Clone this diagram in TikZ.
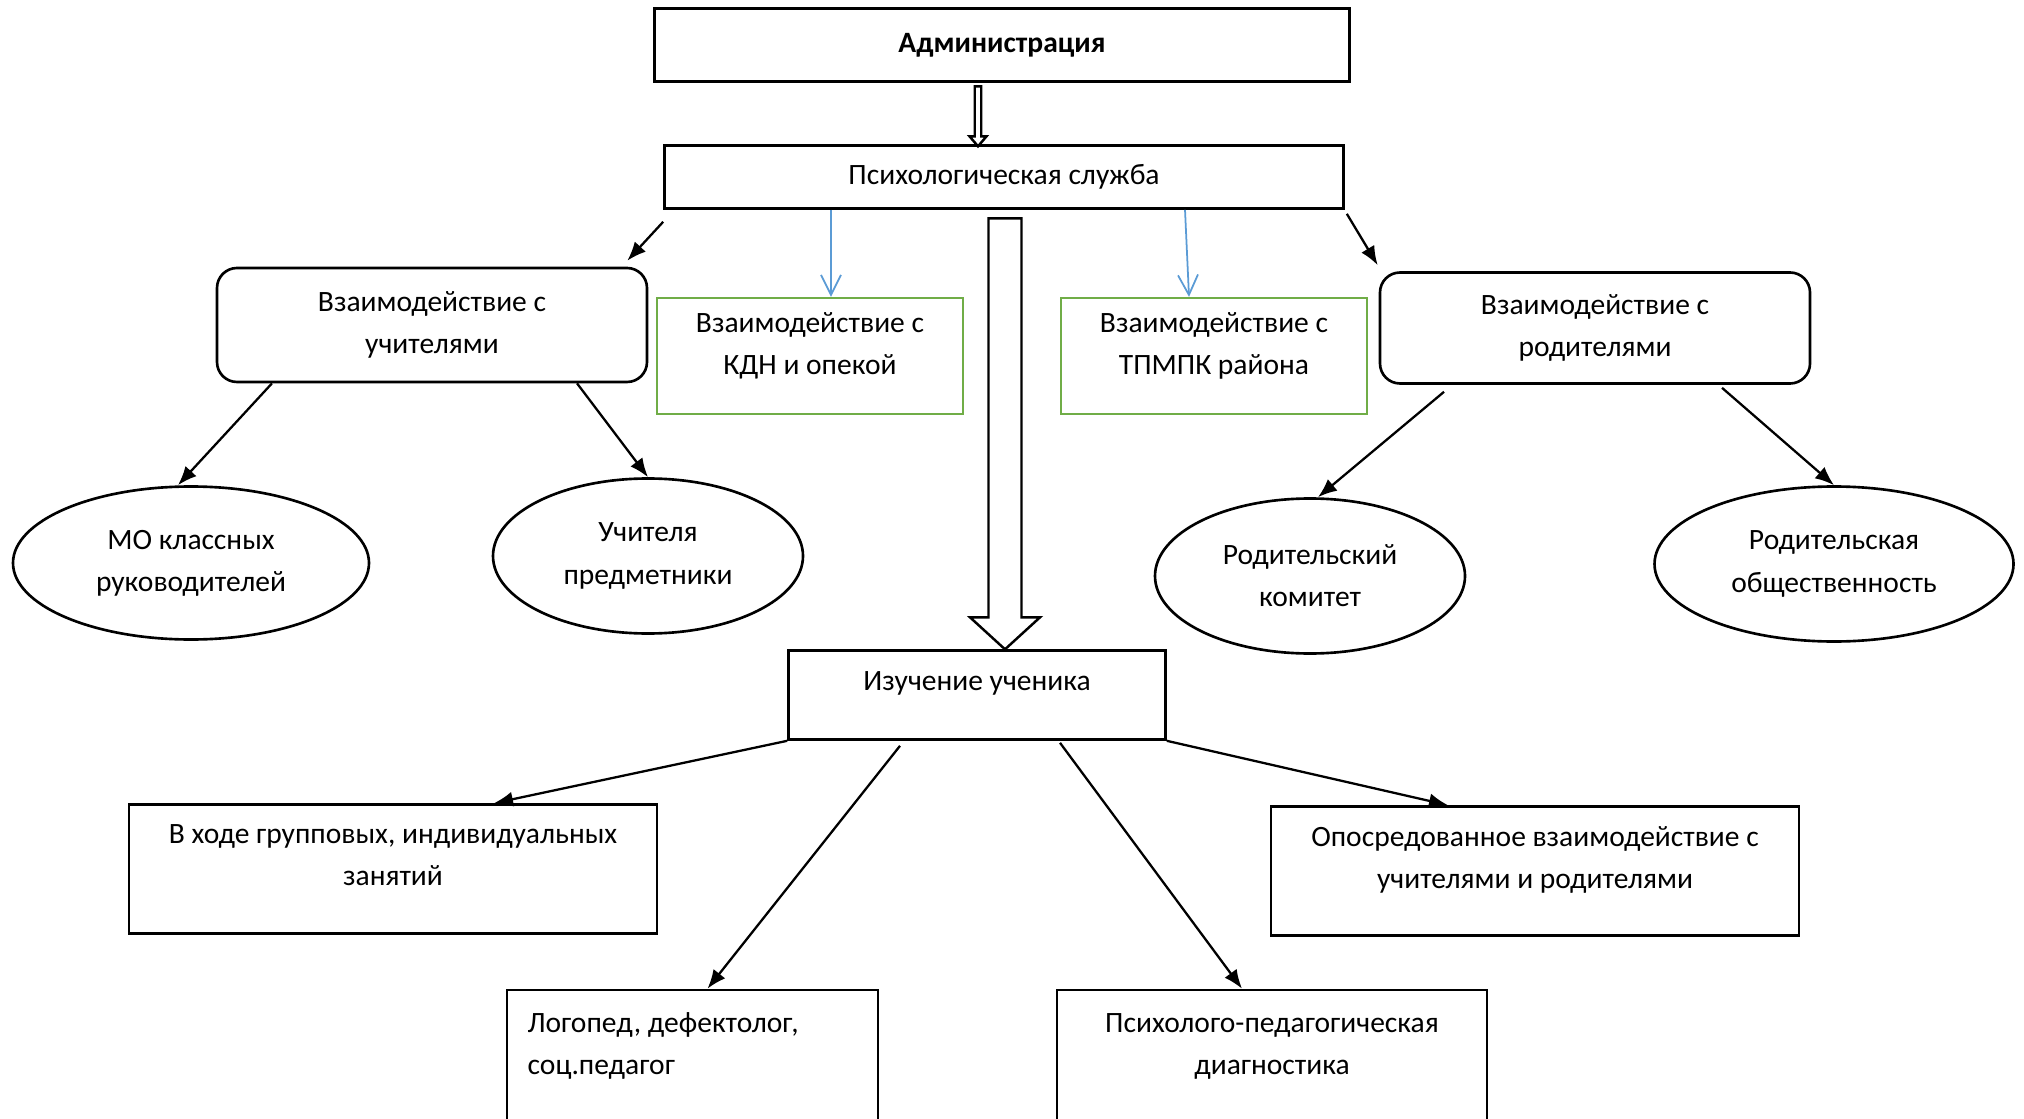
\documentclass[tikz,border=0pt]{standalone}
\usepackage{fontspec}
\setmainfont{Carlito}
\usetikzlibrary{arrows.meta, shapes.geometric, calc}
\definecolor{boxgreen}{HTML}{70AD47}
\definecolor{arrowblue}{HTML}{5B9BD5}

\begin{document}
\begin{tikzpicture}[>={Latex[length=0.38cm, width=0.3cm]}, line width=1.3pt,
    every node/.style={font=\fontsize{16.8}{24}\selectfont, align=center},
    box/.style={draw, line width=1.5pt, inner sep=0pt},
    wordbox/.style={box, text depth=0.55cm},
    roundbox/.style={box, rounded corners=0.4cm},
    greenbox/.style={draw=boxgreen, line width=1.3pt, inner sep=0pt, text depth=0.5cm},
    oval/.style={draw, ellipse, line width=1.5pt, inner sep=0pt},
    bluearrow/.style={draw=arrowblue, line width=1pt, -{Straight Barb[length=0.4cm, width=0.4cm]}},
    hollow/.style={draw, line width=1.4pt, line join=miter}]
    \useasboundingbox (0, 0) rectangle (40.48, -22.38);

    \node[box, font=\fontsize{16.8}{24}\selectfont\bfseries, minimum width=13.9cm, minimum height=1.46cm] (admin) at (20.04, -0.9) {Администрация};
    \node[box, minimum width=13.58cm, minimum height=1.26cm] (psych) at (20.08, -3.54) {Психологическая служба};

    \node[roundbox, minimum width=8.6cm, minimum height=2.28cm] (teach) at (8.64, -6.5) {Взаимодействие с\\учителями};
    \node[greenbox, minimum width=6.12cm, minimum height=2.32cm] (kdn) at (16.2, -7.12) {Взаимодействие с\\КДН и опекой};
    \node[greenbox, minimum width=6.12cm, minimum height=2.32cm] (tpmpk) at (24.28, -7.12) {Взаимодействие с\\ТПМПК района};
    \node[roundbox, minimum width=8.6cm, minimum height=2.22cm] (parents) at (31.9, -6.56) {Взаимодействие с\\родителями};

    \node[oval, minimum width=7.12cm, minimum height=3.06cm] (mo) at (3.82, -11.26) {МО классных\\руководителей};
    \node[oval, minimum width=6.2cm, minimum height=3.1cm] (predm) at (12.96, -11.12) {Учителя\\предметники};
    \node[oval, minimum width=6.2cm, minimum height=3.1cm] (komitet) at (26.2, -11.52) {Родительский\\комитет};
    \node[oval, minimum width=7.18cm, minimum height=3.1cm] (obsch) at (36.68, -11.28) {Родительская\\общественность};

    \node[wordbox, minimum width=7.54cm, minimum height=1.78cm] (study) at (19.54, -13.9) {Изучение ученика};

    \node[wordbox, minimum width=10.56cm, minimum height=2.58cm] (vhode) at (7.86, -17.38) {В ходе групповых, индивидуальных\\занятий};
    \node[wordbox, minimum width=10.56cm, minimum height=2.58cm] (oposr) at (30.7, -17.42) {Опосредованное взаимодействие с\\учителями и родителями};
    \node[wordbox, align=flush left, text width=6.6cm, text depth=1.4cm, minimum width=7.42cm, minimum height=2.7cm] (logo) at (13.85, -21.15) {Логопед, дефектолог,\\соц.педагог};
    \node[wordbox, minimum width=8.6cm, minimum height=2.7cm] (diag) at (25.44, -21.15) {Психолого-педагогическая\\диагностика};

    % admin -> psych
    \coordinate (a0) at ($(admin.south)+(-0.48, -0.07)$);
    \draw[hollow] (a0) ++(-0.065, 0) -- ++(0, -1) -- ++(-0.105, 0) -- ++(0.17, -0.2)
        -- ++(0.17, 0.2) -- ++(-0.105, 0) -- ++(0, 1) -- cycle;
    % psych -> study
    \coordinate (a1) at ($(psych.south)+(0.02, -0.17)$);
    \draw[hollow] (a1) ++(-0.33, 0) -- ++(0, -7.98) -- ++(-0.37, 0) -- ++(0.7, -0.64)
        -- ++(0.7, 0.64) -- ++(-0.37, 0) -- ++(0, 7.98) -- cycle;

    % teachers
    \draw[->] ($(psych.south west)+(0, -0.24)$) -- ($(teach.north east)+(-0.42, 0.12)$);
    % kdn
    \draw[bluearrow] ($(psych.south -| kdn.north)+(0.42, 0)$) -- ($(kdn.north)+(0.42, 0)$);
    % tpmpk
    \draw[bluearrow] ($(psych.south -| tpmpk.north)+(-0.58, 0)$) -- ($(tpmpk.north)+(-0.5, 0)$);
    % parents
    \draw[->] ($(psych.south east)+(0.04, -0.08)$) -- ($(parents.north west)+(-0.02, 0.12)$);

    \draw[->] ($(teach.south)+(-3.2, 0)$) -- ($(mo.north)+(-0.26, 0)$);
    \draw[->] ($(teach.south)+(2.9, 0)$) -- (predm.north);
    \draw[->] ($(parents.south)+(-3.02, -0.14)$) -- ($(komitet.north)+(0.16, 0)$);
    \draw[->] ($(parents.south)+(2.54, -0.06)$) -- (obsch.north);

    % study
    \draw[->] (study.south west) -- ($(vhode.north)+(2.02, 0)$);
    \draw[->] ($(study.south)+(-1.54, -0.1)$) -- ($(logo.north)+(0.3, 0)$);
    \draw[->] ($(study.south)+(1.66, -0.04)$) -- ($(diag.north)+(-0.6, 0)$);
    \draw[->] (study.south east) -- ($(oposr.north)+(-1.74, 0)$);
\end{tikzpicture}
\end{document}
